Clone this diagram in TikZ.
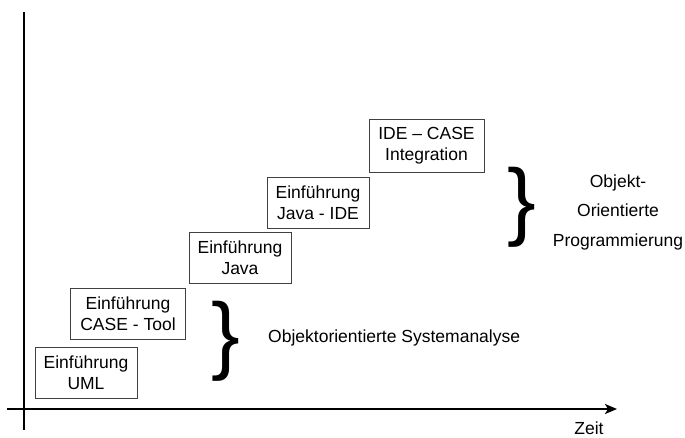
\documentclass[tikz,border=0pt]{standalone}
\usepackage{fontspec}
\setmainfont{Liberation Sans}
\usetikzlibrary{arrows.meta}
\begin{document}
\begin{tikzpicture}[x=1pt,y=-1pt]
    \useasboundingbox (0,0) rectangle (685,437);
    \begin{scope}
        \tikzstyle{every node}=[draw=black!75, line width=0.8pt, align=center, minimum height=51pt, inner sep=0pt, font=\fontsize{17.5}{21}\selectfont]
        \node[minimum width=102pt] (uml) at (86,372.5) {Einführung\\UML};
        \node[minimum width=115pt] (casetool) at (128,314) {Einführung\\CASE - Tool};
        \node[minimum width=102pt] (java) at (240,258) {Einführung\\Java};
        \node[minimum width=102pt] (javaide) at (318,202.5) {Einführung\\Java - IDE};
        \node[minimum width=115pt, minimum height=53pt] (idecase) at (426.5,145.5) {IDE -- CASE\\Integration};
    \end{scope}
    \begin{scope}
        \tikzstyle{every node}=[inner sep=0pt, font=\fontsize{86}{86}\selectfont]
        \node (ooabrace) at (225.5,341) {\}};
        \node (oopbrace) at (522,207.5) {\}};
    \end{scope}
    \begin{scope}
        \tikzstyle{every node}=[align=center, inner sep=0pt, font=\fontsize{17.5}{29.5}\selectfont]
        \node[anchor=west] (ooa) at (268,338) {Objektorientierte Systemanalyse};
        \node (oop) at (618,212) {Objekt-\\Orientierte\\Programmierung};
        \node (zeit) at (589,428) {Zeit};
    \end{scope}
    \coordinate (ytop) at (24,12);
    \coordinate (ybot) at (24,430);
    \coordinate (xleft) at (7,409);
    \coordinate (xright) at (617,409);
    \draw[line width=2pt] (ybot) -- (ytop);
    \draw[line width=2pt, -{Stealth[length=12pt, width=10pt, inset=3pt]}] (xleft) -- (xright);
\end{tikzpicture}
\end{document}
